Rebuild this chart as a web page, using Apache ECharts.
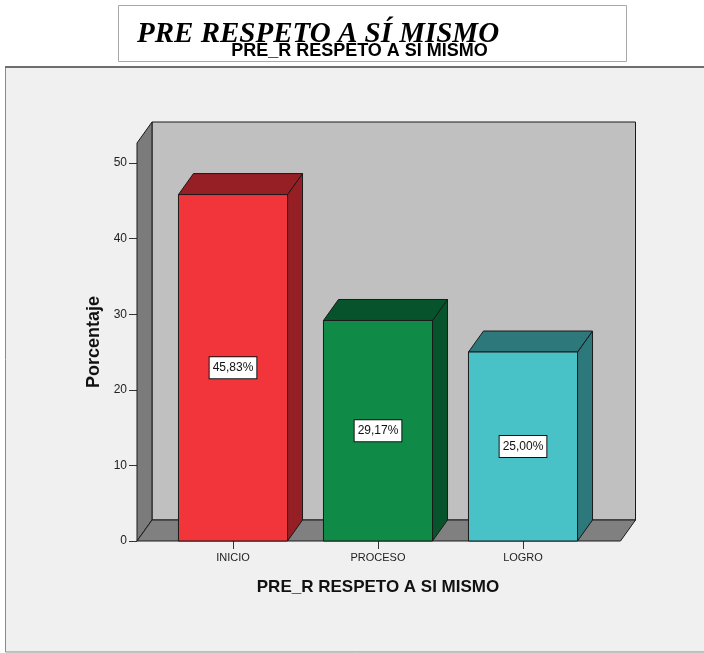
<!DOCTYPE html>
<html><head><meta charset="utf-8">
<script src="https://cdn.jsdelivr.net/npm/echarts@6/dist/echarts.min.js"></script>
<style>html,body{margin:0;padding:0;background:#fff}#c{width:704px;height:653px}</style>
</head><body><div id="c"></div>
<script>
// ---- data ----
const categories = ['INICIO', 'PROCESO', 'LOGRO'];
const percentages = [45.83, 29.17, 25.00];
const valueLabels = ['45,83%', '29,17%', '25,00%'];
const yTicks = [0, 10, 20, 30, 40, 50];
const mainTitle = 'PRE RESPETO A SÍ MISMO';
const subTitle = 'PRE_R RESPETO A SI MISMO';
const xName = 'PRE_R RESPETO A SI MISMO';
const yName = 'Porcentaje';

// ---- styles ----
const frontColors = ['#F2343B', '#0F8A47', '#48C2C7'];
const shadeColors = ['#951F25', '#07532B', '#2C787A'];
const DX = 15, DY = -21;
const FONT = '"Liberation Sans", Arial, sans-serif';
const EDGE = '#1a1a1a';

const chart = echarts.init(document.getElementById('c'), null, {renderer: 'canvas'});

function renderWalls(params, api) {
  const cs = params.coordSys;
  const x0 = cs.x - 23.5, x1 = cs.x + cs.width + 25, y0 = cs.y, y1 = cs.y + cs.height;
  return {
    type: 'group', children: [
      {type: 'rect', shape: {x: x0 + DX, y: y0 + DY, width: x1 - x0, height: y1 - y0},
        style: {fill: '#C0C0C0', stroke: EDGE, lineWidth: 1}},
      {type: 'polygon', shape: {points: [[x0, y0], [x0 + DX, y0 + DY], [x0 + DX, y1 + DY], [x0, y1]]},
        style: {fill: '#7B7B7B', stroke: EDGE, lineWidth: 1}},
      {type: 'polygon', shape: {points: [[x0, y1], [x0 + DX, y1 + DY], [x1 + DX, y1 + DY], [x1, y1]]},
        style: {fill: '#808080', stroke: EDGE, lineWidth: 1}}
    ]
  };
}

function renderBar(params, api) {
  const i = params.dataIndex;
  const base = api.coord([api.value(0), 0]);
  const top = api.coord([api.value(0), api.value(1)]);
  const w = api.size([1, 0])[0] * 0.752;
  const xl = base[0] - w / 2, xr = base[0] + w / 2, yt = top[1], yb = base[1];
  return {
    type: 'group', children: [
      {type: 'polygon', shape: {points: [[xr, yt], [xr + DX, yt + DY], [xr + DX, yb + DY], [xr, yb]]},
        style: {fill: shadeColors[i], stroke: EDGE, lineWidth: 1}},
      {type: 'polygon', shape: {points: [[xl, yt], [xl + DX, yt + DY], [xr + DX, yt + DY], [xr, yt]]},
        style: {fill: shadeColors[i], stroke: EDGE, lineWidth: 1}},
      {type: 'rect', shape: {x: xl, y: yt, width: w, height: yb - yt},
        style: {fill: frontColors[i], stroke: EDGE, lineWidth: 1}},
      {type: 'text', style: {text: valueLabels[i], x: base[0], y: (yt + yb) / 2,
        align: 'center', verticalAlign: 'middle', font: '12px ' + FONT, fill: '#111',
        backgroundColor: '#fff', borderColor: '#111', borderWidth: 1, padding: [5, 3, 4, 3]}}
    ]
  };
}

chart.setOption({
  backgroundColor: '#fff',
  animation: false,
  graphic: [
    {type: 'rect', z: -10, shape: {x: 5.5, y: 67, width: 710, height: 585},
      style: {fill: '#F0F0F0', stroke: '#8A8A8A', lineWidth: 1}},
    {type: 'line', z: -9, shape: {x1: 5, y1: 67, x2: 704, y2: 67}, style: {stroke: '#6E6E6E', lineWidth: 2}},
    {type: 'rect', z: -10, shape: {x: 118.5, y: 5.5, width: 508, height: 56},
      style: {fill: '#fff', stroke: '#A8A8A8', lineWidth: 1}},
    {type: 'text', z: 10, style: {text: mainTitle, x: 137, y: 20, align: 'left', verticalAlign: 'top',
      font: 'italic bold 29px "Liberation Serif", "Times New Roman", serif', fill: '#000'}},
    {type: 'text', z: 10, style: {text: subTitle, x: 359.5, y: 42.5, align: 'center', verticalAlign: 'top',
      font: 'bold 18px ' + FONT, fill: '#000'}}
  ],
  grid: {left: 160.5, right: 108.5, top: 143, bottom: 112, containLabel: false},
  xAxis: {
    type: 'category', data: categories,
    axisLine: {show: false},
    axisTick: {show: true, alignWithLabel: true, length: 8, lineStyle: {color: '#333'}},
    axisLabel: {margin: 11, fontSize: 11, color: '#222', fontFamily: FONT},
    splitLine: {show: false},
    name: xName, nameLocation: 'middle', nameGap: 38,
    nameTextStyle: {fontWeight: 'bold', fontSize: 17, color: '#111', fontFamily: FONT}
  },
  yAxis: {
    type: 'value', min: 0, max: 52.65, interval: 10, offset: 23.5,
    axisLine: {show: false},
    axisTick: {show: true, length: 8, lineStyle: {color: '#333'}, customValues: yTicks},
    axisLabel: {margin: 10, fontSize: 12, color: '#222', fontFamily: FONT, customValues: yTicks},
    splitLine: {show: false},
    name: yName, nameLocation: 'middle', nameGap: 27, nameRotate: 90,
    nameTextStyle: {fontWeight: 'bold', fontSize: 18, color: '#111', fontFamily: FONT}
  },
  series: [
    {type: 'custom', z: 1, clip: false, renderItem: renderWalls, data: [[0, 0]], silent: true},
    {type: 'custom', z: 3, clip: false, renderItem: renderBar,
      data: percentages.map((v, i) => [i, v])}
  ]
});
</script>
</body></html>
